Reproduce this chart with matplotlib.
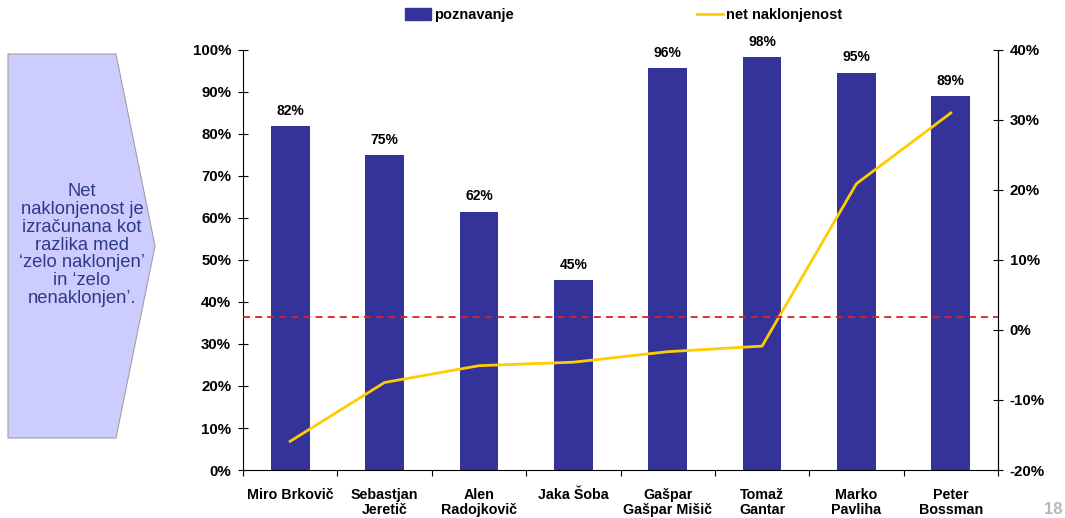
import numpy as np
import matplotlib.pyplot as plt
from matplotlib.patches import Polygon, Patch
from matplotlib.lines import Line2D

plt.rcParams['font.family'] = ['Liberation Sans', 'DejaVu Sans']

names = ['Miro Brkovič', 'Sebastjan\nJeretič', 'Alen\nRadojkovič', 'Jaka Šoba',
         'Gašpar\nGašpar Mišič', 'Tomaž\nGantar', 'Marko\nPavliha', 'Peter\nBossman']
poznavanje = [81.9, 75.0, 61.5, 45.2, 95.7, 98.3, 94.6, 89.0]
net = [-15.9, -7.5, -5.1, -4.6, -3.1, -2.3, 20.9, 31.0]
ref_line = 1.9   # red dashed reference on right axis

bar_col = '#333399'
line_col = '#FFCC00'

fig = plt.figure(figsize=(10.65, 5.18), dpi=100)
ax = fig.add_axes([243/1065, 1-470/518, (998-243)/1065, 420/518])
ax2 = ax.twinx()

x = np.arange(len(names))
ax.bar(x, poznavanje, width=0.41, color=bar_col, zorder=2)
for xi, v in zip(x, poznavanje):
    ax.annotate('%d%%' % round(v), (xi, v), xytext=(0, 6), textcoords='offset points',
                ha='center', va='bottom', fontsize=10, fontweight='bold')

ax2.plot(x, net, color=line_col, lw=2, zorder=3)
ax2.axhline(ref_line, color='#E02020', lw=1.3, ls=(0, (3.9, 2.8)), zorder=4)

ax.set_xlim(-0.5, len(names) - 0.5)
ax.set_ylim(0, 100)
ax2.set_ylim(-20, 40)
ax.set_yticks(np.arange(0, 101, 10))
ax.set_yticklabels(['%d%%' % t for t in range(0, 101, 10)])
ax2.set_yticks(np.arange(-20, 41, 10))
ax2.set_yticklabels(['%d%%' % t for t in range(-20, 41, 10)])

ax.set_xticks(np.arange(-0.5, len(names), 1))
ax.set_xticklabels([])
ax.set_xticks(x, minor=True)
ax.set_xticklabels(names, minor=True)
ax.tick_params(axis='x', which='major', length=4, direction='out')
ax.tick_params(axis='x', which='minor', length=0, pad=13)
for a in (ax, ax2):
    a.tick_params(axis='y', length=7, direction='inout', pad=5)
    for lbl in a.get_yticklabels():
        lbl.set_fontweight('bold')
        lbl.set_fontsize(10.8)
    a.spines['top'].set_visible(False)
for lbl in ax.get_xticklabels(minor=True):
    lbl.set_fontweight('bold')
    lbl.set_fontsize(10.3)
    lbl.set_linespacing(1.05)
ax2.spines['left'].set_visible(False)
ax2.spines['bottom'].set_visible(False)

# legends
leg_kw = dict(loc='center left', frameon=False, handlelength=1.75, borderpad=0,
              borderaxespad=0, handletextpad=0.25, prop={'weight': 'bold', 'size': 10.5})
fig.legend(handles=[Patch(color=bar_col)], labels=['poznavanje'],
           bbox_to_anchor=(405/1065, 1-15/518), handleheight=0.8, **leg_kw)
fig.legend(handles=[Line2D([], [], color=line_col, lw=2)], labels=['net naklonjenost'],
           bbox_to_anchor=(697/1065, 1-15/518), **leg_kw)

# side note arrow
pts = [(8, 54), (116, 54), (155, 246), (116, 438), (8, 438)]
poly = Polygon([(px/1065, 1-py/518) for px, py in pts], closed=True,
               transform=fig.transFigure, facecolor='#CCCCFF', edgecolor='#A0A0A0', lw=0.8)
fig.patches.append(poly)
fig.text(82/1065, 1-245/518,
         'Net\nnaklonjenost je\nizračunana kot\nrazlika med\n\u2018zelo naklonjen\u2019\nin \u2018zelo\nnenaklonjen\u2019.',
         ha='center', va='center', fontsize=13.2, color='#2E3A87', linespacing=1.07)

fig.text(1053/1065, 1-509/518, '18', ha='center', va='center', fontsize=12,
         fontweight='bold', color='#B8B8B8')

fig.savefig('out.png', dpi=100)
